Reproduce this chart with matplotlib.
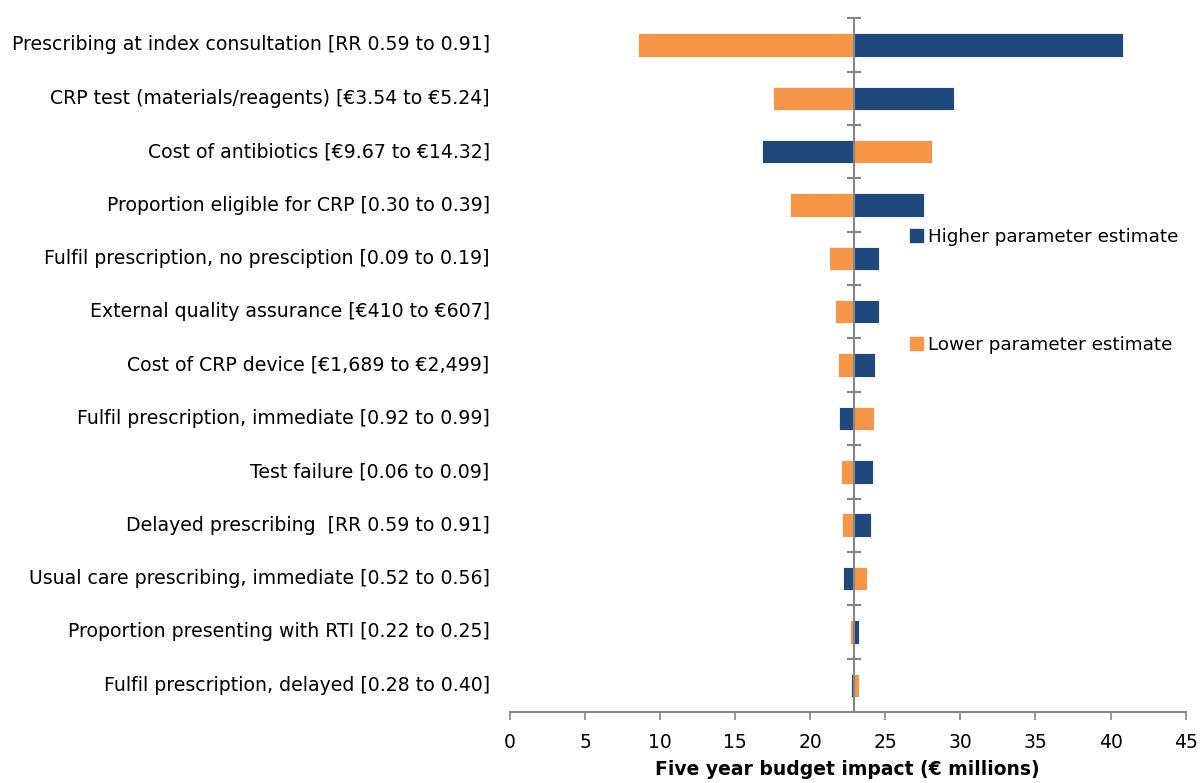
import matplotlib.pyplot as plt
import matplotlib.transforms as mtransforms
import numpy as np
from matplotlib.patches import Patch

ORANGE = "#F79646"
NAVY = "#1F497D"
GREY = "#868686"

BASE = 22.9
labels = [
    "Prescribing at index consultation [RR 0.59 to 0.91]",
    "CRP test (materials/reagents) [€3.54 to €5.24]",
    "Cost of antibiotics [€9.67 to €14.32]",
    "Proportion eligible for CRP [0.30 to 0.39]",
    "Fulfil prescription, no presciption [0.09 to 0.19]",
    "External quality assurance [€410 to €607]",
    "Cost of CRP device [€1,689 to €2,499]",
    "Fulfil prescription, immediate [0.92 to 0.99]",
    "Test failure [0.06 to 0.09]",
    "Delayed prescribing  [RR 0.59 to 0.91]",
    "Usual care prescribing, immediate [0.52 to 0.56]",
    "Proportion presenting with RTI [0.22 to 0.25]",
    "Fulfil prescription, delayed [0.28 to 0.40]",
]
# budget impact with the parameter at its lower / higher estimate
lower = [8.55, 17.55, 28.08, 18.65, 21.27, 21.63, 21.87, 24.26, 22.03, 22.11, 23.75, 22.65, 23.27]
higher = [40.85, 29.59, 16.77, 27.59, 24.60, 24.56, 24.30, 21.90, 24.17, 24.02, 22.17, 23.27, 22.74]

plt.rcParams["font.family"] = ["DejaVu Sans"]

fig = plt.figure(figsize=(12, 7.83), dpi=100)
ax = fig.add_axes([0.425, 0.0907, 0.563, 0.886])

y = np.arange(len(labels))
lo = np.array(lower) - BASE
hi = np.array(higher) - BASE
ax.barh(y, lo, left=BASE, height=0.44, color=ORANGE, edgecolor="white", linewidth=0.6)
ax.barh(y, hi, left=BASE, height=0.44, color=NAVY, edgecolor="white", linewidth=0.6)

ax.set_xlim(0, 45)
ax.set_ylim(len(labels) - 0.5, -0.5)
ax.set_xticks(np.arange(0, 46, 5))
ax.tick_params(axis="x", colors=GREY, labelcolor="black", labelsize=13.5, length=6, width=1.2, pad=9)
ax.set_xlabel("Five year budget impact (€ millions)", fontsize=13.5, fontweight="bold", labelpad=6)

ax.spines["left"].set_position(("data", BASE))
ax.spines["left"].set_color(GREY)
ax.spines["left"].set_linewidth(1.5)
ax.spines["bottom"].set_color(GREY)
ax.spines["bottom"].set_linewidth(1.5)
ax.spines["top"].set_visible(False)
ax.spines["right"].set_visible(False)
ax.set_yticks(np.arange(-0.5, len(labels) - 1, 1))
ax.set_yticklabels([])
ax.tick_params(axis="y", direction="inout", length=10, width=1.5, colors=GREY)

trans = mtransforms.blended_transform_factory(ax.transAxes, ax.transData)
for yi, lab in zip(y, labels):
    ax.text(-0.03, yi, lab, transform=trans, ha="right", va="center", fontsize=13.6)

handles = [Patch(color=NAVY, label="Higher parameter estimate"),
           Patch(color=ORANGE, label="Lower parameter estimate")]
fig.legend(handles=handles, loc="upper left", bbox_to_anchor=(910 / 1200, 1 - 228 / 783),
           frameon=False, fontsize=13.2, handlelength=0.7, handleheight=0.7,
           handletextpad=0.3, labelspacing=4.9, borderpad=0, borderaxespad=0)

fig.savefig("out.png", dpi=100)
